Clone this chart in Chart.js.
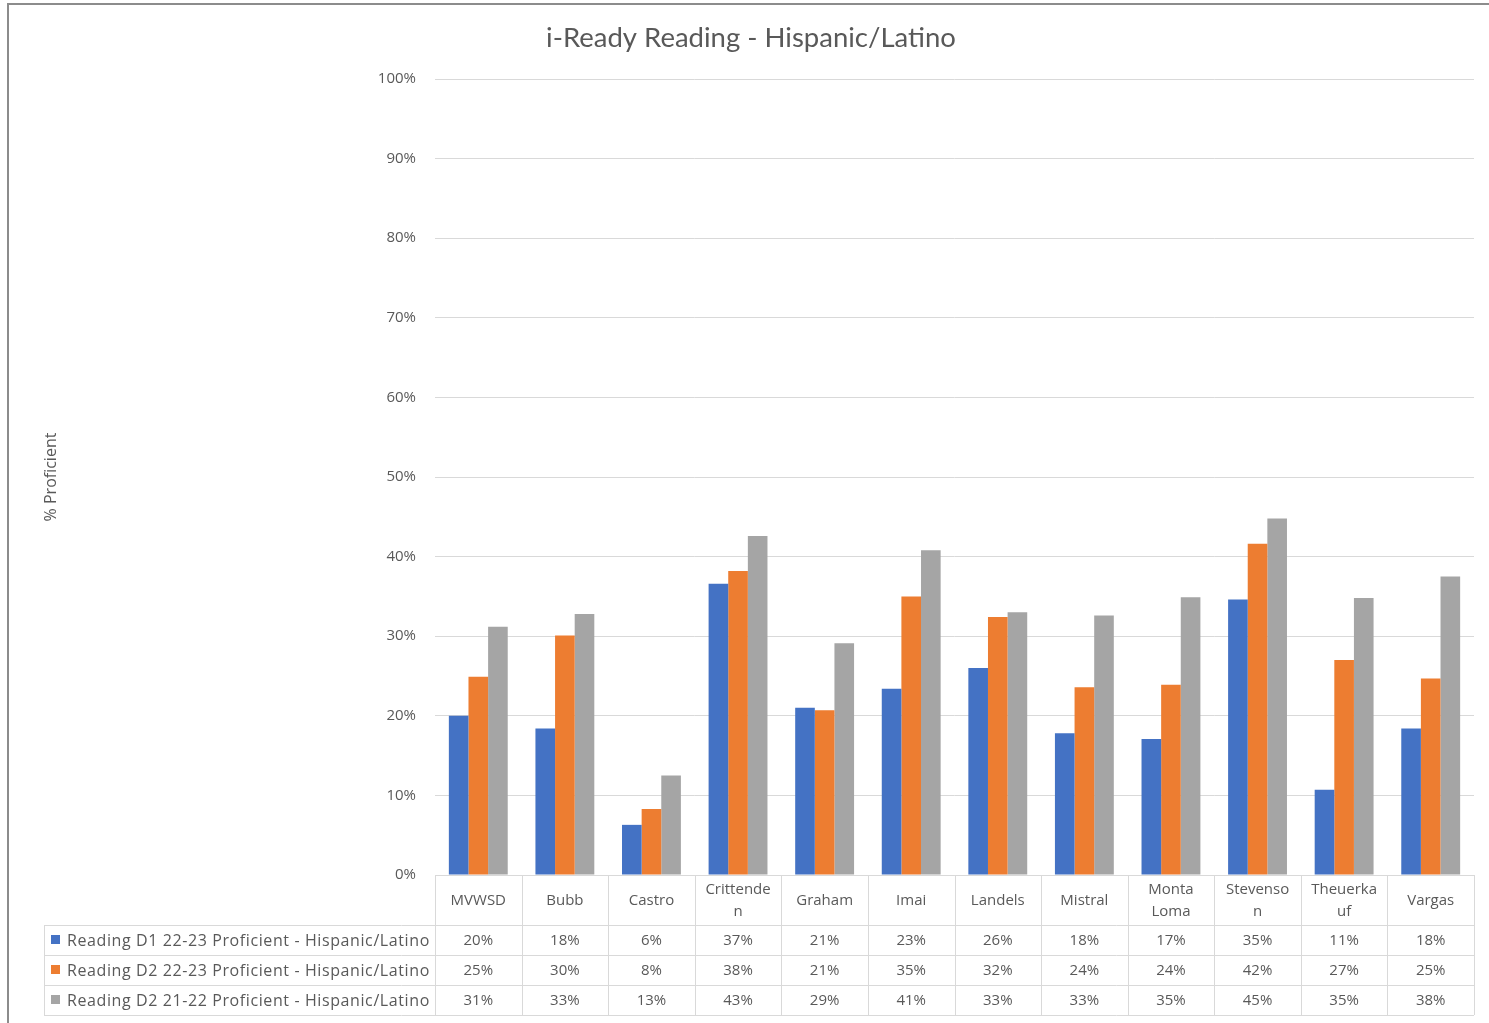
<!DOCTYPE html>
<html>
<head>
<meta charset="utf-8">
<script src="https://cdn.jsdelivr.net/npm/chart.js@4/dist/chart.umd.min.js"></script>
<style>
  html, body { margin: 0; padding: 0; background: #fff; }
  #wrap { width: 1489px; height: 1023px; position: relative; }
</style>
</head>
<body>
<div id="wrap"><canvas id="c" width="1489" height="1023"></canvas></div>
<script>
const chartTitle = "i-Ready Reading - Hispanic/Latino";
const yAxisTitle = "% Proficient";
const categories = ["MVWSD","Bubb","Castro","Crittenden","Graham","Imai","Landels","Mistral","Monta Loma","Stevenson","Theuerkauf","Vargas"];
const categoryLines = [["MVWSD"],["Bubb"],["Castro"],["Crittende","n"],["Graham"],["Imai"],["Landels"],["Mistral"],["Monta","Loma"],["Stevenso","n"],["Theuerka","uf"],["Vargas"]];
const seriesNames = [
  "Reading D1 22-23 Proficient - Hispanic/Latino",
  "Reading D2 22-23 Proficient - Hispanic/Latino",
  "Reading D2 21-22 Proficient - Hispanic/Latino"
];
const d1_2223 = [20.0, 18.4, 6.3, 36.6, 21.0, 23.4, 26.0, 17.8, 17.1, 34.6, 10.7, 18.4];
const d2_2223 = [24.9, 30.1, 8.3, 38.2, 20.7, 35.0, 32.4, 23.6, 23.9, 41.6, 27.0, 24.7];
const d2_2122 = [31.2, 32.8, 12.5, 42.6, 29.1, 40.8, 33.0, 32.6, 34.9, 44.8, 34.8, 37.5];
const seriesColors = ["#4472C4", "#ED7D31", "#A5A5A5"];
const yTicks = [0,10,20,30,40,50,60,70,80,90,100];

const TXT = "#595959";
const FONT = "'Open Sans', Lato, sans-serif";
const TFONT = "Lato, 'Open Sans', sans-serif";
const seriesData = [d1_2223, d2_2223, d2_2122];

const framePlugin = {
  id: 'frame',
  beforeDraw(chart) {
    const ctx = chart.ctx;
    ctx.save();
    ctx.fillStyle = '#fff';
    ctx.fillRect(0, 0, chart.width, chart.height);
    ctx.strokeStyle = '#8c8c8c';
    ctx.lineWidth = 2;
    ctx.beginPath();
    ctx.moveTo(8, chart.height);
    ctx.lineTo(8, 4);
    ctx.lineTo(chart.width, 4);
    ctx.stroke();
    ctx.fillStyle = TXT;
    ctx.font = "27.5px " + TFONT;
    ctx.textAlign = 'center';
    ctx.textBaseline = 'middle';
    ctx.fillText(chartTitle, 751, 38);
    ctx.restore();
  }
};

const tablePlugin = {
  id: 'dataTable',
  afterDraw(chart) {
    const ctx = chart.ctx;
    const ca = chart.chartArea;
    const xs = chart.scales.x;
    const n = categories.length;
    const cw = (ca.right - ca.left) / n;
    const top = ca.bottom;
    const hdrBottom = top + 50;
    const rowH = 30;
    const tableLeft = 44;
    const tableBottom = hdrBottom + rowH * seriesData.length;
    ctx.save();
    ctx.strokeStyle = '#d9d9d9';
    ctx.lineWidth = 1;
    ctx.beginPath();
    ctx.moveTo(ca.left, top + 0.5); ctx.lineTo(ca.right, top + 0.5);
    for (let i = 0; i <= n; i++) {
      const x = Math.round(ca.left + i * cw) + 0.5;
      ctx.moveTo(x, top); ctx.lineTo(x, tableBottom);
    }
    for (let r = 0; r <= seriesData.length; r++) {
      const y = hdrBottom + r * rowH + 0.5;
      ctx.moveTo(tableLeft, y); ctx.lineTo(ca.right, y);
    }
    ctx.moveTo(tableLeft + 0.5, hdrBottom); ctx.lineTo(tableLeft + 0.5, tableBottom);
    ctx.stroke();

    ctx.fillStyle = TXT;
    ctx.font = "15px " + FONT;
    ctx.textAlign = 'center';
    ctx.textBaseline = 'middle';
    for (let i = 0; i < n; i++) {
      const cx = xs.getPixelForValue(i);
      const lines = categoryLines[i];
      const lh = 22;
      const y0 = (top + hdrBottom) / 2 + 1 - (lines.length - 1) * lh / 2;
      lines.forEach((t, k) => ctx.fillText(t, cx, y0 + k * lh));
      seriesData.forEach((arr, s) => {
        ctx.fillText(Math.round(arr[i]) + '%', cx, hdrBottom + s * rowH + rowH / 2 + 1);
      });
    }
    ctx.textAlign = 'left';
    ctx.font = "16px " + FONT;
    try { ctx.letterSpacing = '0.6px'; } catch (e) {}
    seriesNames.forEach((name, s) => {
      const cy = hdrBottom + s * rowH + rowH / 2;
      ctx.fillStyle = seriesColors[s];
      ctx.fillRect(51, cy - 5, 9, 9);
      ctx.fillStyle = TXT;
      ctx.fillText(name, 67, cy + 1);
    });
    try { ctx.letterSpacing = '0px'; } catch (e) {}
    ctx.restore();
  }
};

new Chart(document.getElementById('c'), {
  type: 'bar',
  data: {
    labels: categories,
    datasets: seriesNames.map((name, s) => ({
      label: name,
      data: seriesData[s],
      backgroundColor: seriesColors[s],
      borderWidth: 0,
      barPercentage: 1.0,
      categoryPercentage: 0.68
    }))
  },
  options: {
    responsive: false,
    animation: false,
    devicePixelRatio: 1,
    layout: { padding: { left: 38, right: 15, top: 79, bottom: 148 } },
    plugins: {
      legend: { display: false },
      title: { display: false },
      tooltip: { enabled: false }
    },
    scales: {
      x: { display: false },
      y: {
        min: 0, max: 100,
        afterBuildTicks(scale) { scale.ticks = yTicks.map(v => ({ value: v })); },
        afterFit(scale) { scale.width = 435 - 38; },
        border: { display: false },
        grid: { color: '#d9d9d9', drawTicks: false, lineWidth: 1 },
        ticks: {
          padding: 19,
          color: TXT,
          font: { family: FONT, size: 15 },
          callback: v => v + '%'
        },
        title: {
          display: true,
          text: yAxisTitle,
          color: TXT,
          font: { family: FONT, size: 16 }
        }
      }
    }
  },
  plugins: [framePlugin, tablePlugin]
});
</script>
</body>
</html>
